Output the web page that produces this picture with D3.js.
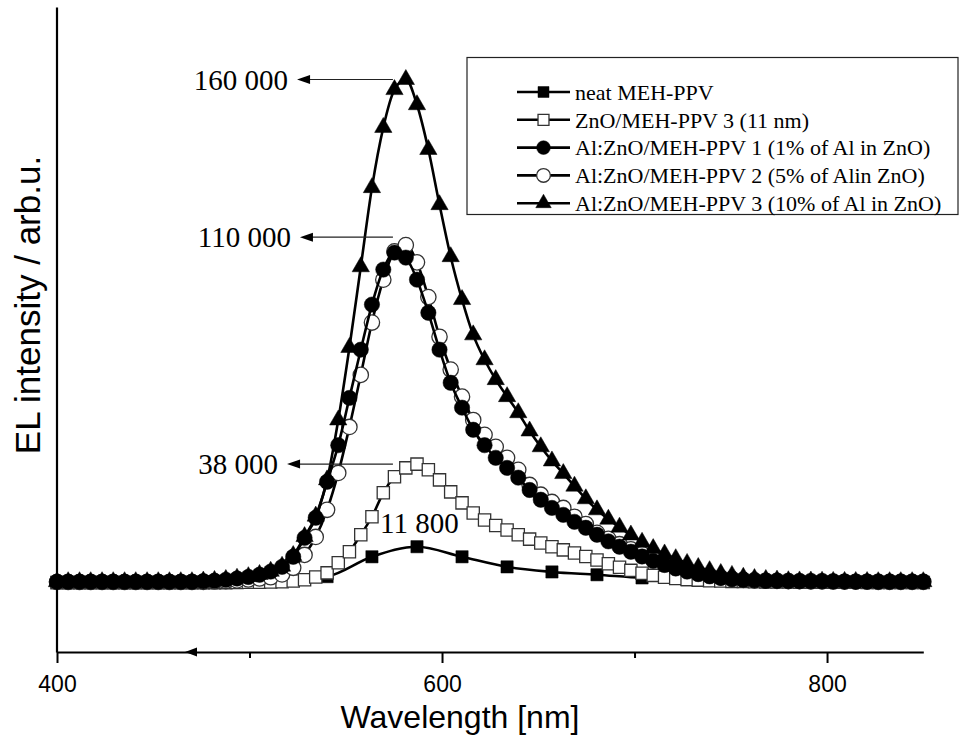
<!DOCTYPE html>
<html>
<head>
<meta charset="utf-8">
<script src="https://cdn.jsdelivr.net/npm/d3@7/dist/d3.min.js"></script>
<style>
  body { margin: 0; background: #fff; }
  svg { display: block; }
</style>
</head>
<body>
<div id="chart"></div>
<script>
// wavelength grid of the spectra [nm]
const wavelengths = [
  400.0, 405.8, 411.7, 417.5, 423.4, 429.2, 435.1, 440.9, 446.8, 452.6,
  458.4, 464.3, 470.1, 476.0, 481.8, 487.7, 493.5, 499.4, 505.2, 511.0,
  516.9, 522.7, 528.6, 534.4, 540.3, 546.1, 551.9, 557.8, 563.6, 569.5,
  575.3, 581.2, 587.0, 592.9, 598.7, 604.5, 610.4, 616.2, 622.1, 627.9,
  633.8, 639.6, 645.5, 651.3, 657.1, 663.0, 668.8, 674.7, 680.5, 686.4,
  692.2, 698.1, 703.9, 709.7, 715.6, 721.4, 727.3, 733.1, 739.0, 744.8,
  750.6, 756.5, 762.3, 768.2, 774.0, 779.9, 785.7, 791.6, 797.4, 803.2,
  809.1, 814.9, 820.8, 826.6, 832.5, 838.3, 844.2, 850.0
];
// neat polymer was measured with a coarser step
const neatWavelengths = [
  400.0, 423.4, 446.8, 470.1, 493.5, 516.9, 540.3, 563.6, 587.0, 610.4,
  633.8, 657.1, 680.5, 703.9, 727.3, 750.6, 774.0, 797.4, 820.8, 844.2
];

const neat = [
  500, 500, 500, 550, 650, 1000, 2300, 8600, 11800, 8600,
  5400, 3800, 2900, 1900, 1300, 1000, 800, 700, 600, 600
];
const zno = [
  400, 400, 400, 400, 400, 400, 400, 400, 400, 400,
  400, 400, 400, 400, 400, 400, 450, 500, 550, 600,
  700, 900, 1300, 2200, 3500, 6700, 10200, 15600, 21300, 28900,
  34000, 36800, 38000, 36200, 33000, 29200, 25700, 22500, 20300, 18500,
  17100, 15600, 14200, 13000, 11800, 10800, 9800, 8700, 7600, 6400,
  5300, 4300, 3400, 2700, 2100, 1700, 1400, 1200, 1000, 900,
  800, 750, 700, 650, 600, 600, 550, 550, 500, 500,
  500, 500, 450, 450, 450, 450, 450, 450
];
const alZno1 = [
  700, 700, 700, 700, 700, 700, 700, 700, 700, 700,
  700, 700, 700, 850, 1000, 1300, 1700, 2200, 2900, 3900,
  5400, 8600, 14600, 21000, 32400, 44000, 59000, 74300, 88600, 99700,
  105100, 103500, 96500, 86000, 74300, 63800, 55900, 48900, 44000, 40000,
  36800, 33700, 29800, 26700, 24100, 21900, 19700, 17800, 15600, 13500,
  11800, 10200, 8700, 7300, 6000, 4900, 3900, 3100, 2400, 1900,
  1500, 1300, 1100, 1000, 950, 900, 850, 800, 800, 750,
  750, 700, 700, 700, 700, 700, 700, 700
];
const alZno5 = [
  600, 600, 600, 600, 600, 600, 600, 600, 600, 600,
  600, 600, 600, 650, 750, 900, 1100, 1400, 1700, 2100,
  3000, 5100, 9200, 14900, 23500, 35200, 49800, 66300, 82900, 96500,
  105500, 107500, 102000, 91000, 78400, 68000, 59400, 52000, 47300, 43500,
  40000, 36200, 31400, 28300, 26000, 24100, 21300, 19000, 16200, 14300,
  12600, 11000, 9500, 8000, 6600, 5300, 4200, 3300, 2600, 2000,
  1600, 1300, 1100, 1000, 950, 900, 850, 800, 800, 750,
  700, 700, 700, 650, 650, 650, 650, 650
];
const alZno10 = [
  700, 700, 700, 700, 700, 700, 700, 700, 700, 700,
  700, 700, 700, 900, 1100, 1400, 1800, 2300, 3000, 4000,
  5600, 9000, 15000, 21500, 33000, 52000, 75000, 100600, 125700, 144800,
  156800, 160000, 152000, 137800, 120300, 103800, 90200, 79000, 71100, 64800,
  59400, 54300, 48500, 43500, 39000, 35000, 31000, 27000, 23500, 20500,
  18000, 15500, 13200, 11200, 9500, 8000, 6500, 5200, 4200, 3300,
  2700, 2100, 1700, 1400, 1200, 1000, 950, 900, 850, 800,
  800, 750, 750, 700, 700, 700, 700, 700
];

const seriesNames = [
  'neat MEH-PPV',
  'ZnO/MEH-PPV 3 (11 nm)',
  'Al:ZnO/MEH-PPV 1 (1% of Al in ZnO)',
  'Al:ZnO/MEH-PPV 2 (5% of Alin ZnO)',
  'Al:ZnO/MEH-PPV 3 (10% of Al in ZnO)'
];
const xTicks = [400, 600, 800];
const xMinorTicks = [500, 700];
const peakLabels = ['160 000', '110 000', '38 000'];
const peakValues = [160000, 110000, 38000];
const smallPeakLabel = '11 800';

const width = 966;
const height = 737;
const serif = "'Liberation Serif', 'Times New Roman', serif";
const sans = "'Liberation Sans', Arial, sans-serif";

const svg = d3
  .select('#chart')
  .append('svg')
  .attr('width', width)
  .attr('height', height)
  .style('background', '#fff');

const x = d3.scaleLinear().domain([400, 850]).range([57, 923.3]);
const y = d3.scaleLinear().domain([-21600, 183000]).range([652, 7]);

//series: legend order, drawing order handled below
const series = [
  { name: seriesNames[0], wl: neatWavelengths, values: neat, symbol: d3.symbolSquare, size: 150, open: false },
  { name: seriesNames[1], wl: wavelengths, values: zno, symbol: d3.symbolSquare, size: 150, open: true },
  { name: seriesNames[2], wl: wavelengths, values: alZno1, symbol: d3.symbolCircle, size: 185, open: false },
  { name: seriesNames[3], wl: wavelengths, values: alZno5, symbol: d3.symbolCircle, size: 185, open: true },
  { name: seriesNames[4], wl: wavelengths, values: alZno10, symbol: d3.symbolTriangle, size: 130, open: false }
];
const drawOrder = [0, 1, 3, 2, 4];

const line = d3
  .line()
  .x(d => x(d[0]))
  .y(d => y(d[1]))
  .curve(d3.curveMonotoneX);

const plot = svg.append('g');

drawOrder.forEach(i => {
  const s = series[i];
  const pts = s.wl.map((w, j) => [w, s.values[j]]);
  plot
    .append('path')
    .datum(pts)
    .attr('d', line)
    .attr('fill', 'none')
    .attr('stroke', '#000')
    .attr('stroke-width', 2.6);

  plot
    .append('g')
    .selectAll('path')
    .data(pts)
    .enter()
    .append('path')
    .attr('transform', d => `translate(${x(d[0])},${y(d[1])})`)
    .attr('d', d3.symbol().type(s.symbol).size(s.size))
    .attr('fill', s.open ? '#fff' : '#000')
    .attr('stroke', s.open ? '#333' : '#000')
    .attr('stroke-width', s.open ? 1.3 : 0.5);
});

//axes
const xAxis = svg
  .append('g')
  .attr('transform', 'translate(0,652)')
  .call(
    d3.axisBottom(x)
      .tickValues(xTicks)
      .tickSize(11)
      .tickSizeOuter(0)
      .tickPadding(13)
      .tickFormat(d3.format('d'))
  );
xAxis.select('.domain').attr('stroke-width', 2.2);
xAxis.selectAll('.tick line').attr('stroke-width', 2);
xAxis
  .selectAll('.tick text')
  .attr('font-family', sans)
  .attr('font-size', 23)
  .attr('fill', '#000');

svg
  .append('g')
  .attr('transform', 'translate(0,652)')
  .call(d3.axisBottom(x).tickValues(xMinorTicks).tickSize(6).tickSizeOuter(0).tickFormat(''))
  .call(g => g.select('.domain').remove())
  .selectAll('.tick line')
  .attr('stroke-width', 2);

svg
  .append('g')
  .attr('transform', 'translate(56.5,0)')
  .call(d3.axisLeft(y).tickValues([]).tickSizeOuter(0))
  .select('.domain')
  .attr('stroke-width', 2.2);

//stray arrow head on the x axis
svg
  .append('path')
  .attr('d', `M${x(466.5)},652 l12,-4.5 l0,9 Z`)
  .attr('fill', '#000');

svg
  .append('text')
  .attr('x', 460)
  .attr('y', 728)
  .attr('text-anchor', 'middle')
  .attr('font-family', sans)
  .attr('font-size', 32)
  .text('Wavelength [nm]');

svg
  .append('text')
  .attr('transform', 'translate(40,305)rotate(-90)')
  .attr('text-anchor', 'middle')
  .attr('font-family', sans)
  .attr('font-size', 35)
  .text('EL intensity / arb.u.');

//peak annotations with arrows
const arrowTail = 574.5;
const arrowTips = [524.7, 526.2, 519.5];
peakLabels.forEach((label, i) => {
  const yy = y(peakValues[i]);
  const tip = x(arrowTips[i]);
  svg
    .append('line')
    .attr('x1', tip + 10)
    .attr('x2', x(arrowTail))
    .attr('y1', yy)
    .attr('y2', yy)
    .attr('stroke', '#222')
    .attr('stroke-width', 1.1);
  svg
    .append('path')
    .attr('d', `M${tip},${yy} l13,-4.5 l0,9 Z`)
    .attr('fill', '#000');
  svg
    .append('text')
    .attr('x', tip - 9)
    .attr('y', yy)
    .attr('dy', '0.35em')
    .attr('text-anchor', 'end')
    .attr('font-family', serif)
    .attr('font-size', 29)
    .text(label);
});

svg
  .append('text')
  .attr('x', x(567.8))
  .attr('y', y(19300))
  .attr('dy', '0.35em')
  .attr('font-family', serif)
  .attr('font-size', 29)
  .text(smallPeakLabel);

//legend
const legend = svg.append('g');
legend
  .append('rect')
  .attr('x', 467)
  .attr('y', 57.5)
  .attr('width', 491)
  .attr('height', 157)
  .attr('fill', '#fff')
  .attr('stroke', '#222')
  .attr('stroke-width', 1.2);

const rows = legend
  .selectAll('g.row')
  .data(series)
  .enter()
  .append('g')
  .attr('class', 'row')
  .attr('transform', (d, i) => `translate(517,${92 + i * 27.8})`);

rows
  .append('line')
  .attr('x1', 0)
  .attr('x2', 53)
  .attr('stroke', '#000')
  .attr('stroke-width', 2.6);

rows
  .append('path')
  .attr('transform', 'translate(26.5,0)')
  .attr('d', d => d3.symbol().type(d.symbol).size(d.size * 0.8)())
  .attr('fill', d => (d.open ? '#fff' : '#000'))
  .attr('stroke', d => (d.open ? '#333' : '#000'))
  .attr('stroke-width', d => (d.open ? 1.3 : 0.5));

rows
  .append('text')
  .attr('x', 58)
  .attr('dy', '0.35em')
  .attr('font-family', serif)
  .attr('font-size', 22)
  .text(d => d.name);
</script>
</body>
</html>
